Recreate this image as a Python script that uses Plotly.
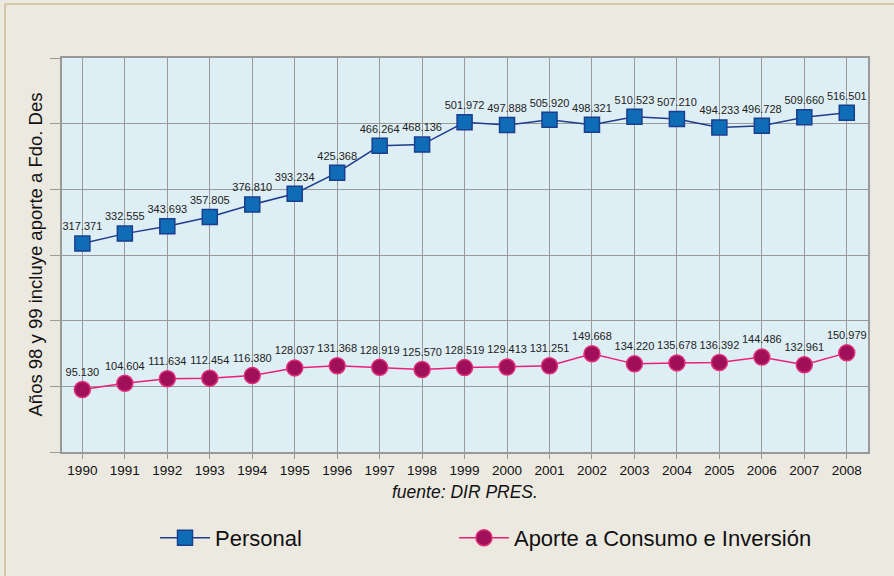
import plotly.graph_objects as go

# Data
years = list(range(1990, 2009))
personal = [317371, 332555, 343693, 357805, 376810, 393234, 425368, 466264, 468136,
            501972, 497888, 505920, 498321, 510523, 507210, 494233, 496728, 509660, 516501]
aporte = [95130, 104604, 111634, 112454, 116380, 128037, 131368, 128919, 125570,
          128519, 129413, 131251, 149668, 134220, 135678, 136392, 144486, 132961, 150979]


def fmt(v):
    return f"{v:,}".replace(",", ".")


font_family = "Liberation Sans, Arial, sans-serif"

fig = go.Figure()

fig.add_trace(go.Scatter(
    x=years, y=personal, name="Personal", legend="legend",
    mode="lines+markers+text",
    text=[fmt(v) for v in personal], textposition="top center",
    textfont=dict(size=11, color="#222222"),
    line=dict(color="#1f3d8c", width=1.5),
    marker=dict(symbol="square", size=15, color="#0f6cb6",
                line=dict(color="#1a3f8f", width=1.5)),
))

fig.add_trace(go.Scatter(
    x=years, y=aporte, name="Aporte a Consumo e Inversión", legend="legend2",
    mode="lines+markers+text",
    text=[fmt(v) for v in aporte], textposition="top center",
    textfont=dict(size=11, color="#222222"),
    line=dict(color="#e8207a", width=1.5),
    marker=dict(symbol="circle", size=16, color="#a0105a",
                line=dict(color="#e0307a", width=1.5)),
))

leg = dict(orientation="h", y=-0.218, xanchor="left", yanchor="middle",
           font=dict(size=22), itemwidth=50, bgcolor="rgba(0,0,0,0)")

fig.update_layout(
    width=894, height=576,
    margin=dict(l=62, r=26, t=58, b=124, autoexpand=False),
    paper_bgcolor="#ece9e1",
    plot_bgcolor="#deeef5",
    font=dict(family=font_family, color="#111111"),
    showlegend=True,
    legend=dict(leg, x=0.1154),
    legend2=dict(leg, x=0.4863),
    xaxis=dict(range=[1989.52, 2008.5], dtick=1, tick0=1990, automargin=False,
               showgrid=True, gridcolor="#999999", gridwidth=1,
               showline=True, linecolor="#999999", linewidth=2, mirror=True,
               ticks="outside", ticklen=5, tickcolor="#999999",
               tickfont=dict(size=13.5), zeroline=False),
    yaxis=dict(range=[0, 600000], dtick=100000, automargin=False,
               showgrid=True, gridcolor="#999999", gridwidth=1,
               showline=True, linecolor="#999999", linewidth=2, mirror=True,
               ticks="outside", ticklen=10, tickcolor="#999999",
               showticklabels=False, zeroline=False),
)

fig.add_annotation(text="Años 98 y 99 incluye aporte a Fdo. Des", textangle=-90,
                   xref="paper", yref="paper", x=0, y=0.5,
                   xanchor="right", yanchor="middle", xshift=-15,
                   showarrow=False, font=dict(size=18.5))
fig.add_annotation(text="<i>fuente: DIR PRES.</i>",
                   xref="paper", yref="paper", x=0.5, y=0,
                   xanchor="center", yanchor="middle", yshift=-40,
                   showarrow=False, font=dict(size=17.5))

# tan frame on top and left
fig.add_shape(type="line", xref="paper", yref="paper",
              x0=(5 - 62) / 806, x1=(894 - 62) / 806, y0=(452 - 4) / 394, y1=(452 - 4) / 394,
              line=dict(color="#d6c7a6", width=2))
fig.add_shape(type="line", xref="paper", yref="paper",
              x0=(5 - 62) / 806, x1=(5 - 62) / 806, y0=(452 - 4) / 394, y1=(452 - 576) / 394,
              line=dict(color="#d6c7a6", width=2))

fig.write_html("out.html", config={"displayModeBar": False},
               post_script="document.body.style.margin='0';")
